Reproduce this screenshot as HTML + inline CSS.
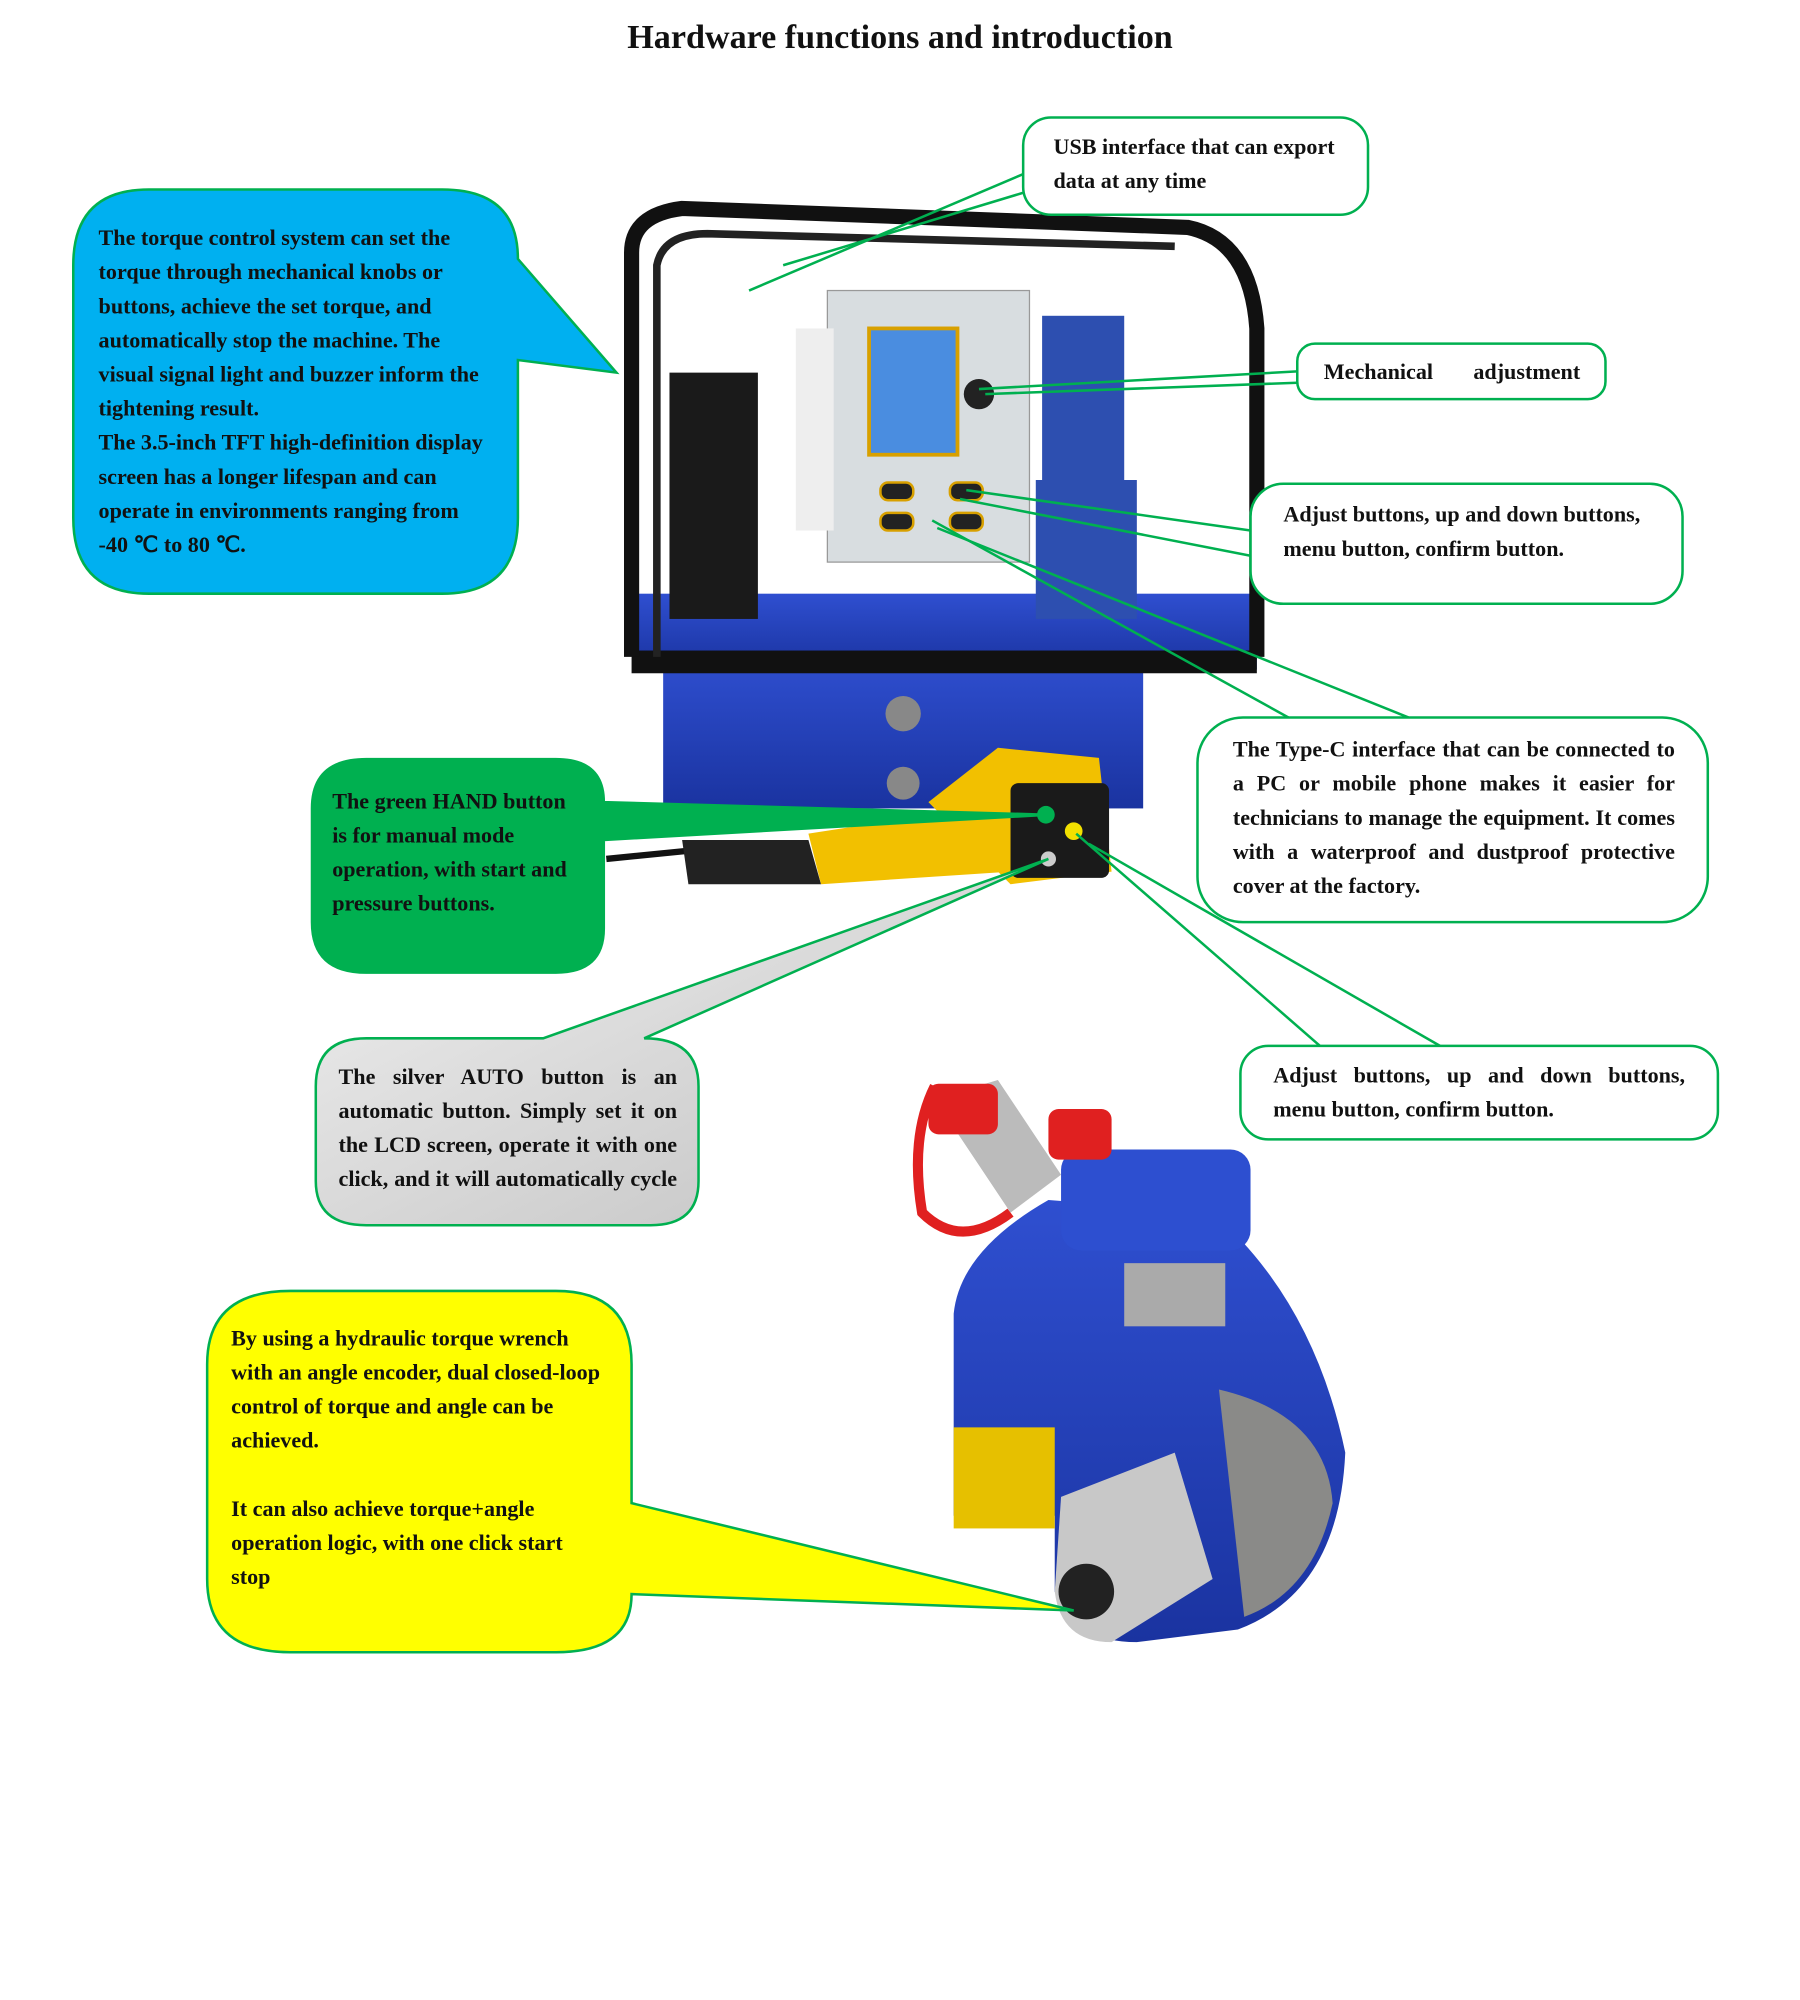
<!DOCTYPE html>
<html><head><meta charset="utf-8">
<style>
html,body{margin:0;padding:0;background:#fff;}
#wrap{width:1800px;height:2000px;overflow:hidden;position:relative;}
#s{position:absolute;left:0;top:0;width:1425px;height:1583px;transform:scale(1.26316);transform-origin:0 0;}
svg{position:absolute;left:0;top:0;}
.t{position:absolute;font-family:"Liberation Serif",serif;font-weight:bold;font-size:17.5px;line-height:27px;color:#111;white-space:nowrap;}
.j div{text-align:justify;text-align-last:justify;}
.j div.l{text-align-last:left;}
</style></head><body><div id="wrap"><div id="s">
<svg width="1425" height="1583" viewBox="0 0 1425 1583">
<defs>
<linearGradient id="gs" x1="0" y1="0" x2="1" y2="1"><stop offset="0" stop-color="#f2f2f2"/><stop offset="1" stop-color="#bfbfbf"/></linearGradient>
<linearGradient id="gb" x1="0" y1="0" x2="0" y2="1"><stop offset="0" stop-color="#2f4fd0"/><stop offset="1" stop-color="#1a33a0"/></linearGradient>
</defs>
<rect x="525" y="520" width="380" height="120" fill="url(#gb)"/>
<rect x="505" y="470" width="490" height="60" fill="url(#gb)"/>
<rect x="500" y="515" width="495" height="18" fill="#111"/>
<path d="M500 520 V200 Q500 170 540 165 L940 180 Q990 190 995 260 V520" fill="none" stroke="#111" stroke-width="12"/>
<path d="M520 520 V210 Q525 185 560 185 L930 195" fill="none" stroke="#222" stroke-width="6"/>
<rect x="530" y="295" width="70" height="195" fill="#1a1a1a"/>
<rect x="655" y="230" width="160" height="215" fill="#d8dde0" stroke="#999"/>
<rect x="688" y="260" width="70" height="100" fill="#4a8de0" stroke="#d8a000" stroke-width="3"/>
<rect x="630" y="260" width="30" height="160" fill="#eee"/>
<rect x="825" y="250" width="65" height="130" fill="#2d4fb0"/>
<rect x="820" y="380" width="80" height="110" fill="#2d4fb0"/>
<circle cx="775" cy="312" r="12" fill="#222"/>
<circle cx="715" cy="565" r="14" fill="#888"/>
<circle cx="715" cy="620" r="13" fill="#888"/>
<rect x="697" y="382" width="26" height="14" rx="6" fill="#222" stroke="#d8a000" stroke-width="2"/>
<rect x="752" y="382" width="26" height="14" rx="6" fill="#222" stroke="#d8a000" stroke-width="2"/>
<rect x="697" y="406" width="26" height="14" rx="6" fill="#222" stroke="#d8a000" stroke-width="2"/>
<rect x="752" y="406" width="26" height="14" rx="6" fill="#222" stroke="#d8a000" stroke-width="2"/>
<path d="M480 680 L560 672" stroke="#111" stroke-width="5"/>
<path d="M540 665 H640 L650 700 H545 Z" fill="#222"/>
<path d="M640 660 L800 635 L800 690 L650 700 Z" fill="#f2c000"/>
<path d="M735 635 L790 592 L870 600 L880 690 L800 700 Z" fill="#f2c000"/>
<rect x="800" y="620" width="78" height="75" rx="6" fill="#1a1a1a"/>
<circle cx="828" cy="645" r="7" fill="#00b050"/><circle cx="850" cy="658" r="7" fill="#f2e000"/><circle cx="830" cy="680" r="6" fill="#ccc"/>
<path d="M755 1040 Q760 990 830 950 L960 960 Q1040 1030 1065 1150 Q1060 1260 980 1290 L900 1300 Q850 1300 835 1260 L835 1200 L755 1200 Z" fill="url(#gb)"/>
<rect x="755" y="1130" width="80" height="80" fill="#e6c000"/>
<path d="M840 1185 L930 1150 L960 1250 L880 1300 Q840 1300 835 1260 Z" fill="#c8c8c8"/>
<path d="M965 1100 Q1050 1120 1055 1190 Q1040 1260 985 1280 Z" fill="#8a8a88"/>
<circle cx="860" cy="1260" r="22" fill="#222"/>
<rect x="840" y="910" width="150" height="80" rx="16" fill="#2d4fd0"/>
<rect x="890" y="1000" width="80" height="50" fill="#aaa"/>
<path d="M740 870 L790 855 L840 930 L800 960 Z" fill="#bbb"/>
<path d="M740 860 Q720 900 730 960 Q760 990 800 960" fill="none" stroke="#e02020" stroke-width="8"/>
<rect x="735" y="858" width="55" height="40" rx="8" fill="#e02020"/>
<rect x="830" y="878" width="50" height="40" rx="8" fill="#e02020"/>
<g stroke="#00b050" stroke-width="2" fill="none">
<path d="M812 137 L593 230"/><path d="M812 152 L620 210"/>
<path d="M1027 294 L775 308"/><path d="M1027 303 L780 312"/>
<path d="M990 420 L765 388"/><path d="M990 440 L760 395"/>
<path d="M1020 568 L738 412"/><path d="M1115 568 L742 418"/>
<path d="M1045 828 L852 660"/><path d="M1140 828 L862 668"/>
</g>
<path d="M118 150 H350 Q410 150 410 205 L488 295 L410 285 V410 Q410 470 350 470 H118 Q58 470 58 410 V210 Q58 150 118 150 Z" fill="#00b0f0" stroke="#00b050" stroke-width="2"/>
<rect x="810" y="93" width="273" height="77" rx="22" fill="#fff" stroke="#00b050" stroke-width="2"/>
<rect x="1027" y="272" width="244" height="44" rx="14" fill="#fff" stroke="#00b050" stroke-width="2"/>
<rect x="990" y="383" width="342" height="95" rx="26" fill="#fff" stroke="#00b050" stroke-width="2"/>
<rect x="948" y="568" width="404" height="162" rx="36" fill="#fff" stroke="#00b050" stroke-width="2"/>
<rect x="982" y="828" width="378" height="74" rx="22" fill="#fff" stroke="#00b050" stroke-width="2"/>
<path d="M290 601 H440 Q478 601 478 635 L830 645 L478 665 V735 Q478 770 440 770 H290 Q247 770 247 730 V640 Q247 601 290 601 Z" fill="#00b050" stroke="#00b050" stroke-width="2"/>
<path d="M290 822 H430 L830 680 L510 822 Q553 822 553 860 V935 Q553 970 515 970 H290 Q250 970 250 935 V860 Q250 822 290 822 Z" fill="url(#gs)" stroke="#00b050" stroke-width="2"/>
<path d="M230 1022 H440 Q500 1022 500 1080 V1190 L850 1275 L500 1262 Q500 1308 440 1308 H230 Q164 1308 164 1250 V1080 Q164 1022 230 1022 Z" fill="#ffff00" stroke="#00b050" stroke-width="2"/>
</svg>

<div class="t" style="left:0;width:1425px;top:12px;text-align:center;font-size:27px;line-height:34px;">Hardware functions and introduction</div>
<div class="t" style="left:78px;top:175px;">The torque control system can set the<br>torque through mechanical knobs or<br>buttons, achieve the set torque, and<br>automatically stop the machine. The<br>visual signal light and buzzer inform the<br>tightening result.<br>The 3.5-inch TFT high-definition display<br>screen has a longer lifespan and can<br>operate in environments ranging from<br>-40 ℃ to 80 ℃.</div>
<div class="t" style="left:834px;top:103px;">USB interface that can export<br>data at any time</div>
<div class="t j" style="left:1048px;top:281px;width:203px;"><div>Mechanical adjustment</div></div>
<div class="t" style="left:1016px;top:394px;">Adjust buttons, up and down buttons,<br>menu button, confirm button.</div>
<div class="t j" style="left:976px;top:580px;width:350px;"><div>The Type-C interface that can be connected to</div><div>a PC or mobile phone makes it easier for</div><div>technicians to manage the equipment. It comes</div><div>with a waterproof and dustproof protective</div><div class="l">cover at the factory.</div></div>
<div class="t j" style="left:1008px;top:838px;width:326px;"><div>Adjust buttons, up and down buttons,</div><div class="l">menu button, confirm button.</div></div>
<div class="t" style="left:263px;top:621px;">The green HAND button<br>is for manual mode<br>operation, with start and<br>pressure buttons.</div>
<div class="t j" style="left:268px;top:839px;width:268px;"><div>The silver AUTO button is an</div><div>automatic button. Simply set it on</div><div>the LCD screen, operate it with one</div><div>click, and it will automatically cycle</div></div>
<div class="t" style="left:183px;top:1046px;">By using a hydraulic torque wrench<br>with an angle encoder, dual closed-loop<br>control of torque and angle can be<br>achieved.<br><br>It can also achieve torque+angle<br>operation logic, with one click start<br>stop</div>
</div></div></body></html>
